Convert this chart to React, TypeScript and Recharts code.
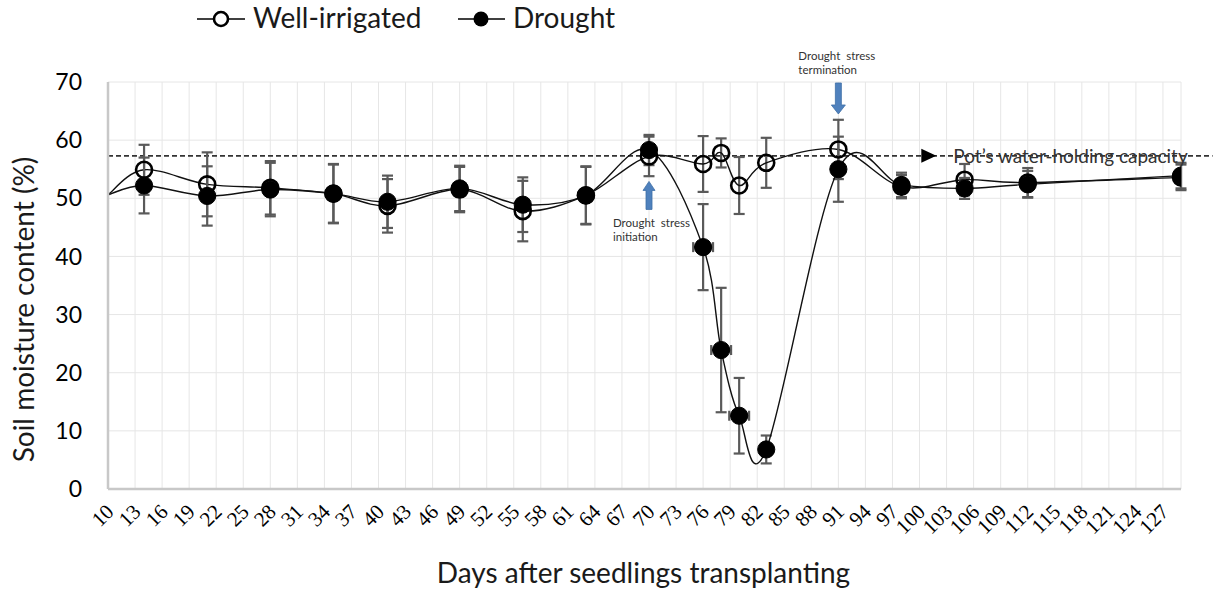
import React from 'react';
import {
  ComposedChart,
  Line,
  Scatter,
  XAxis,
  YAxis,
  CartesianGrid,
  ErrorBar,
  ReferenceLine,
  ReferenceDot,
} from 'recharts';

// Sampling days (days after seedlings transplanting)
const days = [10, 14, 21, 28, 35, 41, 49, 56, 63, 70, 76, 78, 80, 83, 91, 98, 105, 112, 129];

// Soil moisture content (%) and standard deviations
const wellIrrigated = [50.6, 54.9, 52.4, 51.8, 50.8, 48.7, 51.5, 47.8, 50.5, 57.2, 55.9, 57.8, 52.2, 56.1, 58.4, 52.0, 53.2, 52.7, 53.6];
const wellIrrigatedSd = [null, 4.3, 5.5, 4.6, 5.0, 4.6, 3.9, 5.2, 5.0, 3.4, 4.8, 2.5, 4.9, 4.3, 5.1, 2.0, 2.7, 2.5, 2.2];
const drought = [50.6, 52.2, 50.4, 51.5, 50.8, 49.4, 51.7, 48.9, 50.5, 58.3, 41.6, 23.9, 12.6, 6.8, 55.0, 52.3, 51.7, 52.4, 53.9];
const droughtSd = [null, 4.8, 5.1, 4.6, 5.1, 4.5, 3.9, 4.7, 4.9, 2.6, 7.4, 10.7, 6.5, 2.4, 5.6, 2.1, 1.8, 2.3, 2.2];
const droughtDaySd = [null, null, null, null, null, null, null, null, null, null, 1.1, 1.1, 1.1, null, null, null, null, null, null];

// Axis ticks
const dayTicks = [10, 13, 16, 19, 22, 25, 28, 31, 34, 37, 40, 43, 46, 49, 52, 55, 58, 61, 64, 67, 70, 73, 76, 79, 82, 85, 88, 91, 94, 97, 100, 103, 106, 109, 112, 115, 118, 121, 124, 127];
const moistureTicks = [0, 10, 20, 30, 40, 50, 60, 70];

// Pot's water-holding capacity (%)
const potCapacity = 57.3;

// Event markers
const stressStartDay = 70;
const stressEndDay = 91;

const rows = days.map((day, i) => ({
  day,
  wellIrrigated: wellIrrigated[i],
  wellIrrigatedSd: wellIrrigatedSd[i],
  drought: drought[i],
  droughtSd: droughtSd[i],
  droughtDaySd: droughtDaySd[i],
}));

const SANS = 'Lato, "Open Sans", sans-serif';
const SERIF = '"Liberation Serif", "DejaVu Serif", serif';
const ARROW_BLUE = '#4f81bd';
const TEXT = '#1a1a1a';

// Spreadsheet-style smoothed line (Catmull-Rom segments as cubic Béziers)
function smoothCurve(context: any) {
  let pts: number[][] = [];
  return {
    areaStart() {},
    areaEnd() {},
    lineStart() {
      pts = [];
    },
    point(x: number, y: number) {
      pts.push([+x, +y]);
    },
    lineEnd() {
      const n = pts.length;
      if (!n) return;
      context.moveTo(pts[0][0], pts[0][1]);
      for (let i = 0; i < n - 1; i++) {
        const p0 = pts[Math.max(i - 1, 0)];
        const p1 = pts[i];
        const p2 = pts[i + 1];
        const p3 = pts[Math.min(i + 2, n - 1)];
        context.bezierCurveTo(
          p1[0] + (p2[0] - p0[0]) / 6,
          p1[1] + (p2[1] - p0[1]) / 6,
          p2[0] - (p3[0] - p1[0]) / 6,
          p2[1] - (p3[1] - p1[1]) / 6,
          p2[0],
          p2[1]
        );
      }
    },
  };
}

const OpenDot = (props: any) => {
  const { cx, cy, index } = props;
  if (index === 0 || cx == null || cy == null) return <g key={`o-${index}`} />;
  return <circle key={`o-${index}`} cx={cx} cy={cy} r={8} fill="none" stroke="#000" strokeWidth={2.6} />;
};

const FilledDot = (props: any) => {
  const { cx, cy, index } = props;
  if (index === 0 || cx == null || cy == null) return <g key={`f-${index}`} />;
  return <circle key={`f-${index}`} cx={cx} cy={cy} r={8.6} fill="#000" stroke="#000" strokeWidth={1} />;
};

const NoShape = () => <g />;

const DayTick = (props: any) => {
  const { x, y, payload } = props;
  const ax = x + 7;
  const ay = y + 22;
  return (
    <text
      x={ax}
      y={ay}
      transform={`rotate(-45 ${ax} ${ay})`}
      textAnchor="end"
      fontFamily={SERIF}
      fontSize={21}
      fill="#000"
    >
      {payload.value}
    </text>
  );
};

const YTitle = (props: any) => {
  const vb = props.viewBox || {};
  const cx = (vb.x ?? 0) + 23;
  const cy = (vb.y ?? 0) + (vb.height ?? 0) / 2 + 24;
  return (
    <text
      x={cx}
      y={cy}
      transform={`rotate(-90 ${cx} ${cy})`}
      textAnchor="middle"
      dominantBaseline="central"
      fontFamily={SANS}
      fontSize={28}
      fill={TEXT}
    >
      Soil moisture content (%)
    </text>
  );
};

const XTitle = (props: any) => {
  const vb = props.viewBox || {};
  const cx = (vb.x ?? 0) + (vb.width ?? 0) / 2 - 1;
  const cy = (vb.y ?? 0) + 94;
  return (
    <text x={cx} y={cy} textAnchor="middle" fontFamily={SANS} fontSize={28} fill={TEXT}>
      Days after seedlings transplanting
    </text>
  );
};

// Upward block arrow with its caption underneath; tip sits at (cx, cy)
const InitiationMark = (props: any) => {
  const { cx, cy } = props;
  const d = `M${cx} ${cy} L${cx + 6} ${cy + 9} L${cx + 3} ${cy + 9} L${cx + 3} ${cy + 28} L${cx - 3} ${cy + 28} L${cx - 3} ${cy + 9} L${cx - 6} ${cy + 9} Z`;
  return (
    <g>
      <path d={d} fill={ARROW_BLUE} stroke="#3d6fa6" strokeWidth={0.8} />
      <text x={cx - 36} y={cy + 41} fontFamily={SANS} fontSize={11.5} fill="#333" dominantBaseline="central" style={{ whiteSpace: 'pre' }}>
        {'Drought  stress'}
      </text>
      <text x={cx - 36} y={cy + 55} fontFamily={SANS} fontSize={11.5} fill="#333" dominantBaseline="central">
        initiation
      </text>
    </g>
  );
};

// Downward block arrow with its caption above; tip sits at (cx, cy)
const TerminationMark = (props: any) => {
  const { cx, cy } = props;
  const d = `M${cx} ${cy} L${cx + 7} ${cy - 9} L${cx + 3} ${cy - 9} L${cx + 3} ${cy - 31} L${cx - 3} ${cy - 31} L${cx - 3} ${cy - 9} L${cx - 7} ${cy - 9} Z`;
  return (
    <g>
      <path d={d} fill={ARROW_BLUE} stroke="#3d6fa6" strokeWidth={0.8} />
      <text x={cx - 40} y={cy - 58} fontFamily={SANS} fontSize={11.5} fill="#333" dominantBaseline="central" style={{ whiteSpace: 'pre' }}>
        {'Drought  stress'}
      </text>
      <text x={cx - 40} y={cy - 44} fontFamily={SANS} fontSize={11.5} fill="#333" dominantBaseline="central">
        termination
      </text>
    </g>
  );
};

// Pointer triangle followed by the capacity caption
const CapacityMark = (props: any) => {
  const { cx, cy } = props;
  return (
    <g>
      <path d={`M${cx} ${cy - 7} L${cx + 15} ${cy} L${cx} ${cy + 7} Z`} fill="#000" />
      <text x={cx + 32} y={cy} fontFamily={SANS} fontSize={19} fill="#333" dominantBaseline="central">
        Pot’s water-holding capacity
      </text>
    </g>
  );
};

const Legend = () => (
  <svg width={1225} height={42} style={{ position: 'absolute', left: 0, top: 0 }}>
    <line x1={197} y1={19} x2={245} y2={19} stroke="#000" strokeWidth={1.6} />
    <circle cx={221} cy={19} r={7} fill="#fff" stroke="#000" strokeWidth={2.6} />
    <text x={253} y={28} fontFamily={SANS} fontSize={28} fill={TEXT}>
      Well-irrigated
    </text>
    <line x1={458} y1={19} x2={505} y2={19} stroke="#000" strokeWidth={1.6} />
    <circle cx={481} cy={19} r={7.5} fill="#000" />
    <text x={513} y={28} fontFamily={SANS} fontSize={28} fill={TEXT}>
      Drought
    </text>
  </svg>
);

export default function App() {
  return (
    <div style={{ position: 'absolute', left: 0, top: 0, width: 1225, height: 595, background: '#fff' }}>
      <ComposedChart
        width={1225}
        height={595}
        data={rows}
        margin={{ top: 82, right: 44, bottom: 0, left: 0 }}
      >
        <CartesianGrid stroke="#e6e6e6" strokeWidth={1} />
        <XAxis
          dataKey="day"
          type="number"
          domain={[10, 129]}
          ticks={dayTicks}
          interval={0}
          height={106}
          tickSize={0}
          tickLine={false}
          axisLine={{ stroke: '#c8c8c8', strokeWidth: 2.5 }}
          tick={<DayTick />}
          label={{ content: <XTitle /> }}
          allowDataOverflow
        />
        <YAxis
          type="number"
          domain={[0, 70]}
          ticks={moistureTicks}
          width={108}
          tickSize={0}
          tickMargin={26}
          tickLine={false}
          axisLine={{ stroke: '#c8c8c8', strokeWidth: 2.5 }}
          tick={{ fontFamily: SANS, fontSize: 23, fill: '#000' }}
          label={{ content: <YTitle /> }}
        />
        <ReferenceLine
          segment={[
            { x: 10, y: potCapacity },
            { x: 132.5, y: potCapacity },
          ]}
          ifOverflow="visible"
          stroke="#333"
          strokeWidth={1.6}
          strokeDasharray="5 3"
        />
        <ReferenceDot x={100.2} y={potCapacity} ifOverflow="visible" shape={<CapacityMark />} />
        <Scatter dataKey="drought" shape={NoShape} isAnimationActive={false} legendType="none">
          <ErrorBar dataKey="droughtDaySd" direction="x" width={5} stroke="#5a5a5a" strokeWidth={2.2} />
        </Scatter>
        <Line
          dataKey="wellIrrigated"
          type={smoothCurve as any}
          stroke="#111"
          strokeWidth={1.4}
          dot={OpenDot}
          activeDot={false}
          isAnimationActive={false}
        >
          <ErrorBar dataKey="wellIrrigatedSd" direction="y" width={5.5} stroke="#5a5a5a" strokeWidth={2.2} />
        </Line>
        <Line
          dataKey="drought"
          type={smoothCurve as any}
          stroke="#111"
          strokeWidth={1.4}
          dot={FilledDot}
          activeDot={false}
          isAnimationActive={false}
        >
          <ErrorBar dataKey="droughtSd" direction="y" width={5.5} stroke="#5a5a5a" strokeWidth={2.2} />
        </Line>
        <ReferenceDot x={stressStartDay} y={52.9} ifOverflow="visible" shape={<InitiationMark />} />
        <ReferenceDot x={stressEndDay} y={64.5} ifOverflow="visible" shape={<TerminationMark />} />
      </ComposedChart>
      <Legend />
    </div>
  );
}
